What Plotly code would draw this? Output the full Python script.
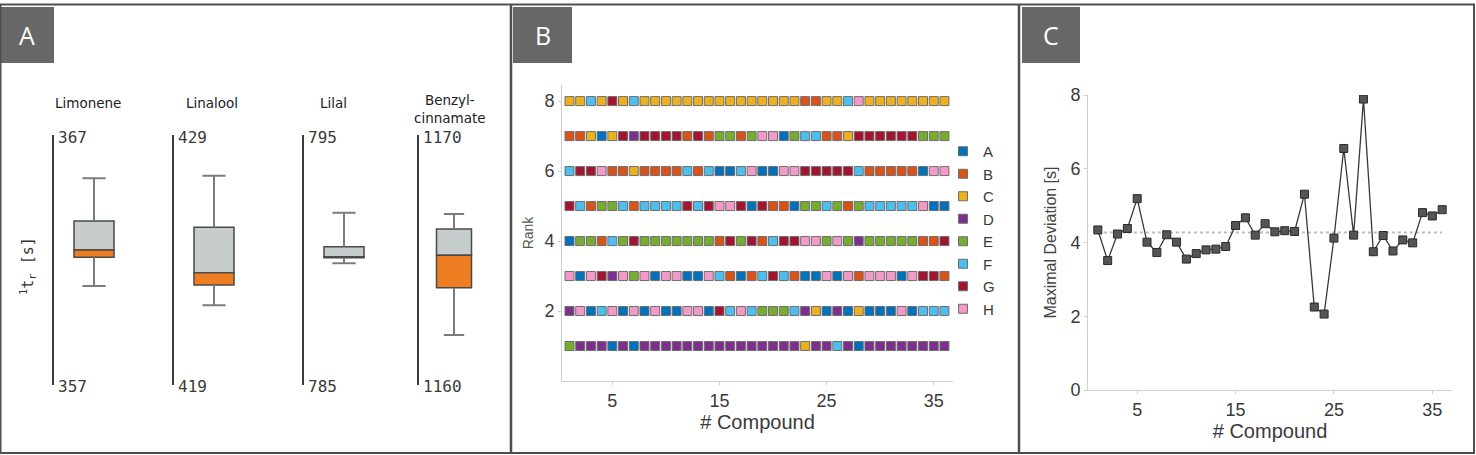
import plotly.graph_objects as go

W, H = 1476, 455


def fx(p):
    return p / W


def fy(p):
    return 1 - p / H


# ---------------- data ----------------
compounds = list(range(1, 37))
methods = ["A", "B", "C", "D", "E", "F", "G", "H"]
method_colors = ["#0072BD", "#D95319", "#EDB120", "#7E2F8E",
                 "#77AC30", "#4DBEEE", "#A2142F", "#F49AC8"]

# method placed at each rank, per compound (Panel B)
rank_8 = list("CCFCGCFCCCCC" "CCCCCCCCCCBB" "CCFHCCCCCCCC")
rank_7 = list("BBCACGDGGGGB" "GBEEBEHHAEFF" "BBCGGGGGGEEE")
rank_6 = list("FGGHBBCBBBBF" "BFAAFHAAHHGG" "GGGFBBBBBAHH")
rank_5 = list("GFBEEFBFFFFG" "FGHHGAGBBAEE" "FEBEFFFFFHAA")
rank_4 = list("AEEBFEGEEEEE" "EEBGEGBFGGHH" "EHEDEEEEEBBG")
rank_3 = list("HAHGDHEHAHHA" "AHFBABFGFBAA" "HAHBHHHAHGGB")
rank_2 = list("DHAFHAHAHAAH" "HAGFHFEEEFDC" "ADACAAAHAFFF")
rank_1 = list("EDDDADADDDDD" "DDDDDDDDDDCD" "DFDADDDDDDDD")
rank_rows = [rank_1, rank_2, rank_3, rank_4, rank_5, rank_6, rank_7, rank_8]

# Panel C
max_deviation = [4.34, 3.51, 4.23, 4.38, 5.19, 4.01, 3.73, 4.21, 4.01, 3.55,
                 3.70, 3.80, 3.82, 3.89, 4.46, 4.67, 4.20, 4.51, 4.29, 4.32,
                 4.30, 5.31, 2.25, 2.06, 4.12, 6.55, 4.20, 7.89, 3.75, 4.19,
                 3.77, 4.07, 3.99, 4.81, 4.72, 4.89]
mean_deviation = 4.27

# Panel A
box_names = ["Limonene", "Linalool", "Lilal", "Benzyl-<br>cinnamate"]
box_axis_low = [357, 419, 785, 1160]
box_axis_high = [367, 429, 795, 1170]
box_min = [360.96, 422.19, 789.87, 1162.00]
box_q1 = [362.11, 423.00, 790.09, 1163.89]
box_median = [362.40, 423.49, 790.13, 1165.19]
box_q3 = [363.56, 425.31, 790.53, 1166.24]
box_max = [365.27, 427.37, 791.89, 1166.84]

# ---------------- figure ----------------
fig = go.Figure()
SANS = "Liberation Sans, Arial, sans-serif"
TXT = "#3a3a3a"

# Panel B: rank plot
for m, col in zip(methods, method_colors):
    xs, ys = [], []
    for r, row in enumerate(rank_rows, start=1):
        for c, letter in zip(compounds, row):
            if letter == m:
                xs.append(c)
                ys.append(r)
    fig.add_trace(go.Scatter(
        x=xs, y=ys, mode="markers", name=m, xaxis="x", yaxis="y",
        marker=dict(symbol="square", size=9, color=col,
                    line=dict(color="#6e6e6e", width=1)),
        showlegend=True, hoverinfo="skip"))

# Panel C: maximal deviation
fig.add_trace(go.Scatter(
    x=[compounds[0], compounds[-1]], y=[mean_deviation, mean_deviation],
    mode="lines", line=dict(color="#bdbdbd", width=2, dash="dot"),
    xaxis="x2", yaxis="y2", showlegend=False, hoverinfo="skip"))
fig.add_trace(go.Scatter(
    x=compounds, y=max_deviation, mode="lines+markers",
    line=dict(color="#383838", width=1.3),
    marker=dict(symbol="square", size=8, color="#555555",
                line=dict(color="#2a2a2a", width=1)),
    xaxis="x2", yaxis="y2", showlegend=False, hoverinfo="skip"))

# Panel A: box plots
GRAY_BOX = "#C6CDCC"
ORANGE = "#EF7D22"
box_left_px = [54, 174, 304, 419]
box_right_px = [134, 254, 384, 489]
title_px = [88, 212, 333, 450]
title_y_px = [103, 103, 103, 109]
cap = 0.29
layout_axes = {}
annotations = []
for i in range(4):
    k = i + 3
    xa, ya = f"x{k}", f"y{k}"
    fig.add_trace(go.Scatter(
        x=[0, 0, None, 0, 0, None, -cap, cap, None, -cap, cap],
        y=[box_q3[i], box_max[i], None, box_min[i], box_q1[i], None,
           box_max[i], box_max[i], None, box_min[i], box_min[i]],
        mode="lines", line=dict(color="#7c7c7c", width=2),
        xaxis=xa, yaxis=ya, showlegend=False, hoverinfo="skip"))
    fig.add_trace(go.Bar(
        x=[0], y=[box_q3[i] - box_median[i]], base=[box_median[i]], width=1.0,
        marker=dict(color=GRAY_BOX, line=dict(color="#4a4a4a", width=1.5)),
        xaxis=xa, yaxis=ya, showlegend=False, hoverinfo="skip"))
    fig.add_trace(go.Bar(
        x=[0], y=[box_median[i] - box_q1[i]], base=[box_q1[i]], width=1.0,
        marker=dict(color=ORANGE, line=dict(color="#4a4a4a", width=1.5)),
        xaxis=xa, yaxis=ya, showlegend=False, hoverinfo="skip"))
    layout_axes[f"xaxis{k}"] = dict(
        domain=[fx(box_left_px[i]), fx(box_right_px[i])], anchor=ya,
        range=[-1, 1], visible=False, fixedrange=True)
    layout_axes[f"yaxis{k}"] = dict(
        domain=[fy(385), fy(135)], anchor=xa,
        range=[box_axis_low[i], box_axis_high[i]],
        showline=True, linecolor="#3c3c3c", linewidth=1.5,
        showticklabels=False, ticks="", showgrid=False, zeroline=False,
        fixedrange=True)
    for v, shift in ((box_axis_low[i], -1), (box_axis_high[i], -2)):
        annotations.append(dict(
            x=0, xref=f"{xa} domain", y=v, yref=ya, text=str(v),
            showarrow=False, xanchor="left", yanchor="middle", xshift=2,
            yshift=shift,
            font=dict(family="DejaVu Sans Mono, monospace", size=16, color="#3a3a3a")))
    annotations.append(dict(
        x=fx(title_px[i]), xref="paper", y=fy(title_y_px[i]), yref="paper",
        text=box_names[i], showarrow=False, xanchor="center", yanchor="middle",
        font=dict(family="DejaVu Sans, Verdana, sans-serif", size=13.5, color="#222")))

annotations.append(dict(
    x=fx(27), xref="paper", y=fy(266), yref="paper",
    text="<sup>1</sup>t<sub>r</sub> [s]", textangle=-90, showarrow=False,
    xanchor="center", yanchor="middle",
    font=dict(family="DejaVu Sans Mono, monospace", size=15, color="#333")))

# panel letters
shapes = []
for letter, (x0, x1) in zip(["A", "B", "C"], [(0, 54), (513, 572), (1022, 1080)]):
    shapes.append(dict(type="rect", xref="paper", yref="paper",
                       x0=fx(x0), x1=fx(x1), y0=fy(63), y1=fy(7),
                       fillcolor="#676767", line=dict(width=0), layer="above"))
    annotations.append(dict(
        x=fx((x0 + x1) / 2), xref="paper", y=fy(35), yref="paper",
        text=letter, showarrow=False, xanchor="center", yanchor="middle",
        font=dict(family="Open Sans, sans-serif", size=25, color="white")))

# panel frames
shapes.append(dict(type="rect", xref="paper", yref="paper",
                   x0=fx(0.5), x1=fx(1474), y0=fy(453), y1=fy(4.5),
                   line=dict(color="#4e4e4e", width=2)))
for xp in (511, 1019):
    shapes.append(dict(type="line", xref="paper", yref="paper",
                       x0=fx(xp), x1=fx(xp), y0=fy(453), y1=fy(4.5),
                       line=dict(color="#4e4e4e", width=2.5)))

axis_common = dict(showline=True, linecolor="#d0d0d0", linewidth=1,
                   ticks="outside", ticklen=3, tickcolor="#d0d0d0",
                   showgrid=False, zeroline=False, automargin=False,
                   tickfont=dict(family=SANS, size=18, color=TXT))

fig.update_layout(
    width=W, height=H, margin=dict(l=0, r=0, t=0, b=0),
    paper_bgcolor="white", plot_bgcolor="rgba(0,0,0,0)",
    barmode="overlay", showlegend=True,
    legend=dict(x=fx(943), y=fy(135), xanchor="left", yanchor="top",
                bgcolor="rgba(0,0,0,0)", borderwidth=0,
                font=dict(family=SANS, size=15, color=TXT),
                tracegroupgap=0, itemclick=False, itemdoubleclick=False),
    xaxis=dict(domain=[fx(562), fx(953)], anchor="y", range=[0.3, 36.8],
               tickvals=[5, 15, 25, 35],
               title=dict(text="# Compound", standoff=3,
                          font=dict(family=SANS, size=20, color=TXT)),
               **axis_common),
    yaxis=dict(domain=[fy(381), fy(85)], anchor="x", range=[0, 8.46],
               tickvals=[2, 4, 6, 8],
               title=dict(text="Rank", standoff=7,
                          font=dict(family=SANS, size=14, color="#555")),
               **axis_common),
    xaxis2=dict(domain=[fx(1088), fx(1452)], anchor="y2", range=[0, 37],
                tickvals=[5, 15, 25, 35],
                title=dict(text="# Compound", standoff=1,
                           font=dict(family=SANS, size=20, color=TXT)),
                **axis_common),
    yaxis2=dict(domain=[fy(390), fy(95)], anchor="x2", range=[0, 8],
                tickvals=[0, 2, 4, 6, 8],
                title=dict(text="Maximal Deviation [s]", standoff=9,
                           font=dict(family=SANS, size=16, color="#444")),
                **axis_common),
    shapes=shapes,
    annotations=annotations,
    **layout_axes,
)

fig.write_html("out.html")
